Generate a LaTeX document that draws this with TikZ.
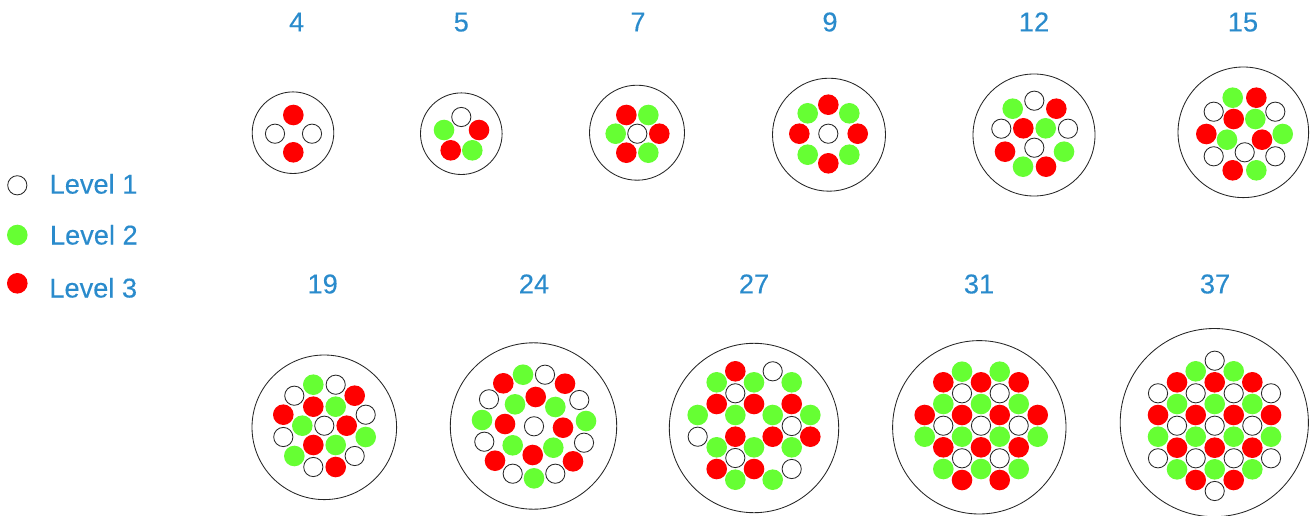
\documentclass[tikz,border=0pt]{standalone}
\usepackage{fontspec}
\setmainfont{Liberation Sans}
\definecolor{txtblue}{HTML}{2A8BCC}
\definecolor{lvgreen}{HTML}{66FF33}
\definecolor{lvred}{HTML}{FF0000}
\newcommand{\labelfont}{\fontsize{27.2}{30}\selectfont\addfontfeature{FakeBold=0.25}}
\tikzset{
  dotbase/.style={circle,inner sep=0pt,outer sep=0pt},
  lwhite/.style={dotbase,draw=black!85,fill=white,line width=0.85pt,minimum size=19.2pt},
  lgreen/.style={dotbase,fill=lvgreen,minimum size=20.6pt},
  lred/.style={dotbase,fill=lvred,minimum size=20.6pt},
  cable/.style={circle,inner sep=0pt,outer sep=0pt,draw=black!85,line width=0.85pt,fill=white},
  title/.style={anchor=base,text=txtblue,inner sep=0pt,font=\labelfont},
  legendtext/.style={anchor=base west,text=txtblue,inner sep=0pt,font=\labelfont}
}
\newcommand{\dotset}[3]{%
  \foreach \px/\py [count=\pi] in {#3} \node[#2] (#1-\pi) at (\px,\py) {};}
\newcommand{\cablecircle}[4]{\node[cable,minimum size=#4*2pt] (c#1) at (#2,#3) {};}
\begin{document}
\begin{tikzpicture}[x=1pt,y=-1pt]
\useasboundingbox (0,0) rectangle (1311,516);
% legend
\node[lwhite] (legw) at (17.3,185.3) {};
\node[lgreen] (legg) at (17.3,235) {};
\node[lred] (legr) at (17.3,283.3) {};
\node[legendtext] (t1) at (49.5,193.6) {Level 1};
\node[legendtext] (t2) at (49.8,244.5) {Level 2};
\node[legendtext] (t3) at (49.2,297.5) {Level 3};
% titles
\node[title] (n4) at (296.7,31.4) {4};
\node[title] (n5) at (461.3,31.4) {5};
\node[title] (n7) at (638,31.4) {7};
\node[title] (n9) at (830,31.4) {9};
\node[title] (n12) at (1034,31.4) {12};
\node[title] (n15) at (1243,31.4) {15};
\node[title] (n19) at (322.7,293.4) {19};
\node[title] (n24) at (534,293.4) {24};
\node[title] (n27) at (754,293.4) {27};
\node[title] (n31) at (979,293.4) {31};
\node[title] (n37) at (1215,293.4) {37};
% 4
\cablecircle{4}{293}{132.7}{40.8}
\dotset{a4w}{lwhite}{275/133.7,312/133.7}
\dotset{a4r}{lred}{293.3/115,293.3/152.3}
% 5
\cablecircle{5}{461.3}{133.7}{40.8}
\dotset{a5w}{lwhite}{461.3/117}
\dotset{a5g}{lgreen}{444/130,472.3/150.3}
\dotset{a5r}{lred}{479/130,450.7/150.3}
% 7
\cablecircle{7}{637}{132.7}{47.5}
\dotset{a7w}{lwhite}{637.3/133.7}
\dotset{a7g}{lgreen}{648.3/115,615.7/133.7,648.3/152.7}
\dotset{a7r}{lred}{626.3/115,659.3/133.7,626.3/152.7}
% 9
\cablecircle{9}{829}{134.7}{56.5}
\dotset{a9w}{lwhite}{828.3/133.7}
\dotset{a9g}{lgreen}{807.7/113.3,849.3/113.3,807.7/154.7,849.3/154.7}
\dotset{a9r}{lred}{828.3/104.7,799.3/133.7,857.7/133.7,828.3/163.3}
% 12
\cablecircle{12}{1034}{135}{61}
\dotset{a12w}{lwhite}{1034.3/100.7,1001.3/128.7,1068/128.7,1034.3/147.7}
\dotset{a12g}{lgreen}{1012.7/108.7,1045.7/128.3,1064/151.7,1023/166.7}
\dotset{a12r}{lred}{1056.3/108.7,1023.3/128.3,1005/151.7,1046/166.7}
% 15
\cablecircle{15}{1243.3}{132.3}{65.3}
\dotset{a15w}{lwhite}{1213.7/111.7,1275.3/111.7,1213.7/156.3,1244.7/152.3,1275.3/156.3}
\dotset{a15g}{lgreen}{1232.7/97.7,1255.3/119,1227/139.7,1282.7/134,1256.3/170.3}
\dotset{a15r}{lred}{1256.3/97.7,1233.7/119,1206.3/134,1262/139.7,1232.7/170.3}
% 19
\cablecircle{19}{324.3}{427.3}{72.3}
\dotset{a19w}{lwhite}{335.7/384.7,294.3/395.7,365.7/414.7,324.3/425.7,283.3/437,354.7/456,313.3/467}
\dotset{a19g}{lgreen}{313.3/384.7,335.7/406.7,302.3/425.7,365.7/437,335.7/445,294.3/456}
\dotset{a19r}{lred}{354.7/395.7,313.3/406.7,283.3/414.7,346.7/425.7,313.3/445,335.7/467}
% 24
\cablecircle{24}{533.5}{426}{83.2}
\dotset{a24w}{lwhite}{545/374.7,489/399.3,579.3/400,534/426.3,484.3/441.7,584/442.7,512.7/473.7,555.3/473.7}
\dotset{a24g}{lgreen}{523/374.7,515/404.3,555.3/407,482/420,586/421,512.7/445.3,553.3/447.7,534/478.3}
\dotset{a24r}{lred}{503.3/383.3,565/383.7,535.7/397,505/424,563/427.7,532.7/455,495/460.7,573/461.3}
% 27
\cablecircle{27}{754}{428}{84.7}
\dotset{a27w}{lwhite}{772.7/371.3,735.3/393.3,791.7/426,697.7/436.7,735.3/458,791.7/469}
\dotset{a27g}{lgreen}{716.7/382.3,754/382.3,791.7/382.3,697.7/415,735.3/415,772.7/415,810.3/415,716.7/447.3,754/447.3,791.7/447.3,735.3/479.7,772.7/479.7}
\dotset{a27r}{lred}{735.3/371.3,716.7/404,754/404,791.7/404,735.3/436.7,772.7/436.7,810.3/436.7,716.7/469,754/469}
% 31
\cablecircle{31}{979.3}{427.3}{86.7}
\dotset{a31w}{lwhite}{962/393.3,999.7/393.3,943.3/425.7,981/425.7,1018.7/425.7,962/458.3,999.7/458.3}
\dotset{a31g}{lgreen}{962/371.7,999.7/371.7,943.3/404,981/404,1018.7/404,924.7/436.7,962/436.7,999.7/436.7,1037.7/436.7,943.3/469,981/469,1018.7/469}
\dotset{a31r}{lred}{943.3/382.3,981/382.3,1018.7/382.3,924.7/415,962/415,999.7/415,1037.7/415,943.3/447.3,981/447.3,1018.7/447.3,962/480,999.7/480}
% 37
\cablecircle{37}{1214.3}{422.6}{94.1}
\dotset{a37w}{lwhite}{1214.7/360.7,1158/393.3,1195.7/393.3,1233.7/393.3,1271/393.3,1177/425.7,1214.7/425.7,1252.3/425.7,1158/458.3,1195.7/458.3,1233.7/458.3,1271/458.3,1214.7/491}
\dotset{a37g}{lgreen}{1195.7/371.3,1233.7/371.3,1177/404,1214.7/404,1252.3/404,1158/436.7,1195.7/436.7,1233.7/436.7,1271/436.7,1177/469.3,1214.7/469.3,1252.3/469.3}
\dotset{a37r}{lred}{1177/382.3,1214.7/382.3,1252.3/382.3,1158/415,1195.7/415,1233.7/415,1271/415,1177/447.7,1214.7/447.7,1252.3/447.7,1195.7/480,1233.7/480}
\end{tikzpicture}
\end{document}
